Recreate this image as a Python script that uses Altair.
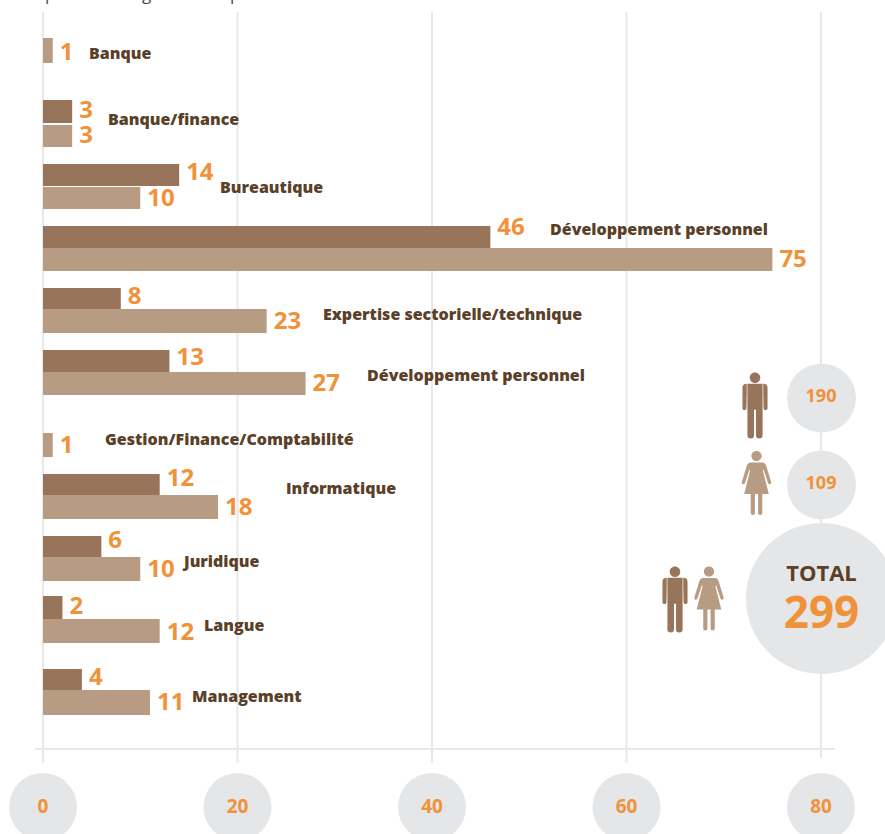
import altair as alt
import pandas as pd

# Training days by subject, men and women
categories = ["Banque", "Banque/finance", "Bureautique", "Développement personnel",
              "Expertise sectorielle/technique", "Développement personnel",
              "Gestion/Finance/Comptabilité", "Informatique", "Juridique", "Langue", "Management"]
men = [None, 3, 14, 46, 8, 13, None, 12, 6, 2, 4]
women = [1, 3, 10, 75, 23, 27, 1, 18, 10, 12, 11]
axis_ticks = [0, 20, 40, 60, 80]

DARK = "#98755a"
LIGHT = "#b79c83"
ORANGE = "#f0923a"
TEXT = "#5a4028"
DISC = "#e5e6e8"
GRID = "#e8e8e9"
FONT = "Open Sans"

W, H = 885, 834
X0, UNIT = 43, 9.725  # pixel of zero, pixels per axis unit


def ax(px):
    return (px - X0) / UNIT


# Vertical layout of the rows: bar extents and label centres, in canvas units
men_bar = [None, (100, 123), (164, 186), (226, 248), (288, 310), (350, 372), None,
           (474, 496), (536, 558), (596, 619), (669, 691)]
women_bar = [(38, 63), (125, 147), (187, 209), (248, 271), (309, 333), (372, 395), (433, 457),
             (495, 519), (557, 581), (619, 643), (690, 715)]
men_label_y = [None, 111, 173, 228, 297, 358, None, 479, 541, 607, 678]
women_label_y = [53, 136, 199, 260, 322, 384, 446, 508, 570, 633, 703]
cat_label_x = [89, 108, 220, 550, 323, 367, 105, 286, 184, 204, 192]
cat_label_y = [54, 120, 188, 230, 315, 376, 440, 489, 562, 626, 697]

rows = []
for i, cat in enumerate(categories):
    for val, bar, ly, colour in ((men[i], men_bar[i], men_label_y[i], DARK),
                                 (women[i], women_bar[i], women_label_y[i], LIGHT)):
        if val is None:
            continue
        rows.append(dict(category=cat, value=val, zero=0, top=bar[0], bottom=bar[1],
                         label_y=ly, colour=colour, text=str(val)))
bars = pd.DataFrame(rows)
cats = pd.DataFrame(dict(category=categories, x=[ax(p) for p in cat_label_x], y=cat_label_y))
ticks = pd.DataFrame(dict(tick=axis_ticks, label=[str(t) for t in axis_ticks],
                          y=[807] * 5, top=[12] * 5, bottom=[763, 763, 763, 763, 758]))

xs = alt.Scale(domain=[ax(0), ax(W)], nice=False, zero=False)
ys = alt.Scale(domain=[H, 0], nice=False, zero=False)


def X(field):
    return alt.X(field, type="quantitative", scale=xs, axis=None)


def Y(field):
    return alt.Y(field, type="quantitative", scale=ys, axis=None)


grid = alt.Chart(ticks).mark_rule(color=GRID, strokeWidth=2).encode(
    x=X("tick"), y=Y("top"), y2="bottom")
baseline = alt.Chart(pd.DataFrame(dict(a=[ax(35)], b=[ax(835)], y=[749]))).mark_rule(
    color=GRID, strokeWidth=2).encode(x=X("a"), x2="b", y=Y("y"))

tick_discs = alt.Chart(ticks).mark_point(shape="circle", filled=True, opacity=1, color=DISC,
                                         size=68 ** 2).encode(x=X("tick"), y=Y("y"))
tick_text = alt.Chart(ticks).mark_text(font=FONT, fontWeight="bold", fontSize=19, color=ORANGE,
                                       baseline="middle").encode(
    x=X("tick"), y=Y("y"), text="label:N")

bar_layer = alt.Chart(bars).mark_bar(cornerRadius=0).encode(
    x=X("zero"), x2="value", y=Y("top"), y2="bottom",
    color=alt.Color("colour:N", scale=None, legend=None))
value_text = alt.Chart(bars).mark_text(font=FONT, fontWeight="bold", fontSize=24, color=ORANGE,
                                       align="left", baseline="middle", dx=7).encode(
    x=X("value"), y=Y("label_y"), text="text:N")
cat_text = alt.Chart(cats).mark_text(font=FONT, fontWeight=800, fontSize=16, color=TEXT,
                                     align="left", baseline="middle").encode(
    x=X("x"), y=Y("y"), text="category:N")

# Caption line running off the top edge: only its descenders stay on the canvas
caption = alt.Chart(pd.DataFrame(dict(t=["p", "g", "p"], x=[ax(45), ax(142), ax(230)], y=[0, 0, 0]))).mark_text(
    font=FONT, fontSize=17, color="#4a4a4a", align="left", baseline="alphabetic").encode(
    x=X("x"), y=Y("y"), text="t:N")

# Totals beside the last gridline
discs = pd.DataFrame(dict(x=[ax(821.5)] * 3, y=[398, 485, 598.5], d=[69 ** 2, 69 ** 2, 151 ** 2]))
total_discs = alt.Chart(discs).mark_point(shape="circle", filled=True, opacity=1, color=DISC).encode(
    x=X("x"), y=Y("y"), size=alt.Size("d:Q", scale=None, legend=None))
count_text = alt.Chart(pd.DataFrame(dict(t=["190", "109"], x=[ax(821)] * 2, y=[397, 484]))).mark_text(
    font=FONT, fontWeight="bold", fontSize=18, color=ORANGE, baseline="middle").encode(
    x=X("x"), y=Y("y"), text="t:N")
total_word = alt.Chart(pd.DataFrame(dict(t=["TOTAL"], x=[ax(821.5)], y=[574]))).mark_text(
    font=FONT, fontWeight="bold", fontSize=22, color=TEXT, baseline="middle").encode(
    x=X("x"), y=Y("y"), text="t:N")
total_num = alt.Chart(pd.DataFrame(dict(t=["299"], x=[ax(821.5)], y=[615]))).mark_text(
    font=FONT, fontWeight="bold", fontSize=44, color=ORANGE, baseline="middle").encode(
    x=X("x"), y=Y("y"), text="t:N")

# Pictograms as unit-square symbol paths
HEAD = "M-0.16 -0.84A0.16 0.16 0 1 1 0.16 -0.84A0.16 0.16 0 1 1 -0.16 -0.84Z"
MAN = HEAD + (
    "M-0.23 -0.66L0.23 -0.66L0.23 0.9Q0.23 1 0.13 1Q0.03 1 0.03 0.9L0.03 0.13L-0.03 0.13L-0.03 0.9"
    "Q-0.03 1 -0.13 1Q-0.23 1 -0.23 0.9Z"
    "M0.25 -0.66Q0.38 -0.66 0.38 -0.54L0.38 0.08Q0.38 0.14 0.32 0.14Q0.26 0.14 0.26 0.08L0.25 -0.4Z"
    "M-0.25 -0.66Q-0.38 -0.66 -0.38 -0.54L-0.38 0.08Q-0.38 0.14 -0.32 0.14Q-0.26 0.14 -0.26 0.08L-0.25 -0.4Z"
)
WOMAN = HEAD + (
    "M-0.19 -0.64L0.19 -0.64Q0.27 -0.64 0.3 -0.55L0.46 -0.02Q0.47 0.04 0.41 0.04Q0.38 0.04 0.36 0"
    "L0.22 -0.42L0.2 -0.38L0.385 0.34L0.18 0.34L0.18 0.94Q0.18 1 0.115 1Q0.05 1 0.05 0.94L0.05 0.34"
    "L-0.05 0.34L-0.05 0.94Q-0.05 1 -0.115 1Q-0.18 1 -0.18 0.94L-0.18 0.34L-0.385 0.34L-0.2 -0.38"
    "L-0.22 -0.42L-0.36 0Q-0.38 0.04 -0.41 0.04Q-0.47 0.04 -0.46 -0.02L-0.3 -0.55Q-0.27 -0.64 -0.19 -0.64Z"
)


def figure(path, colour, size, xpx, ypx):
    frame = pd.DataFrame(dict(x=[ax(p) for p in xpx], y=ypx))
    return alt.Chart(frame).mark_point(shape=path, filled=True, opacity=1, color=colour,
                                       size=size ** 2, strokeWidth=0).encode(x=X("x"), y=Y("y"))


men_icons = figure(MAN, DARK, 66, [755, 675], [405.5, 599.5])
women_icons = figure(WOMAN, LIGHT, 64, [756.5, 709], [483, 598.5])

chart = alt.layer(
    grid, baseline, caption, tick_discs, tick_text, total_discs, count_text, total_word, total_num,
    bar_layer, value_text, cat_text, men_icons, women_icons,
).properties(width=W, height=H, padding=0, autosize="none").configure_view(stroke=None)

chart.save("out.html", embed_options={"renderer": "svg", "actions": False})
